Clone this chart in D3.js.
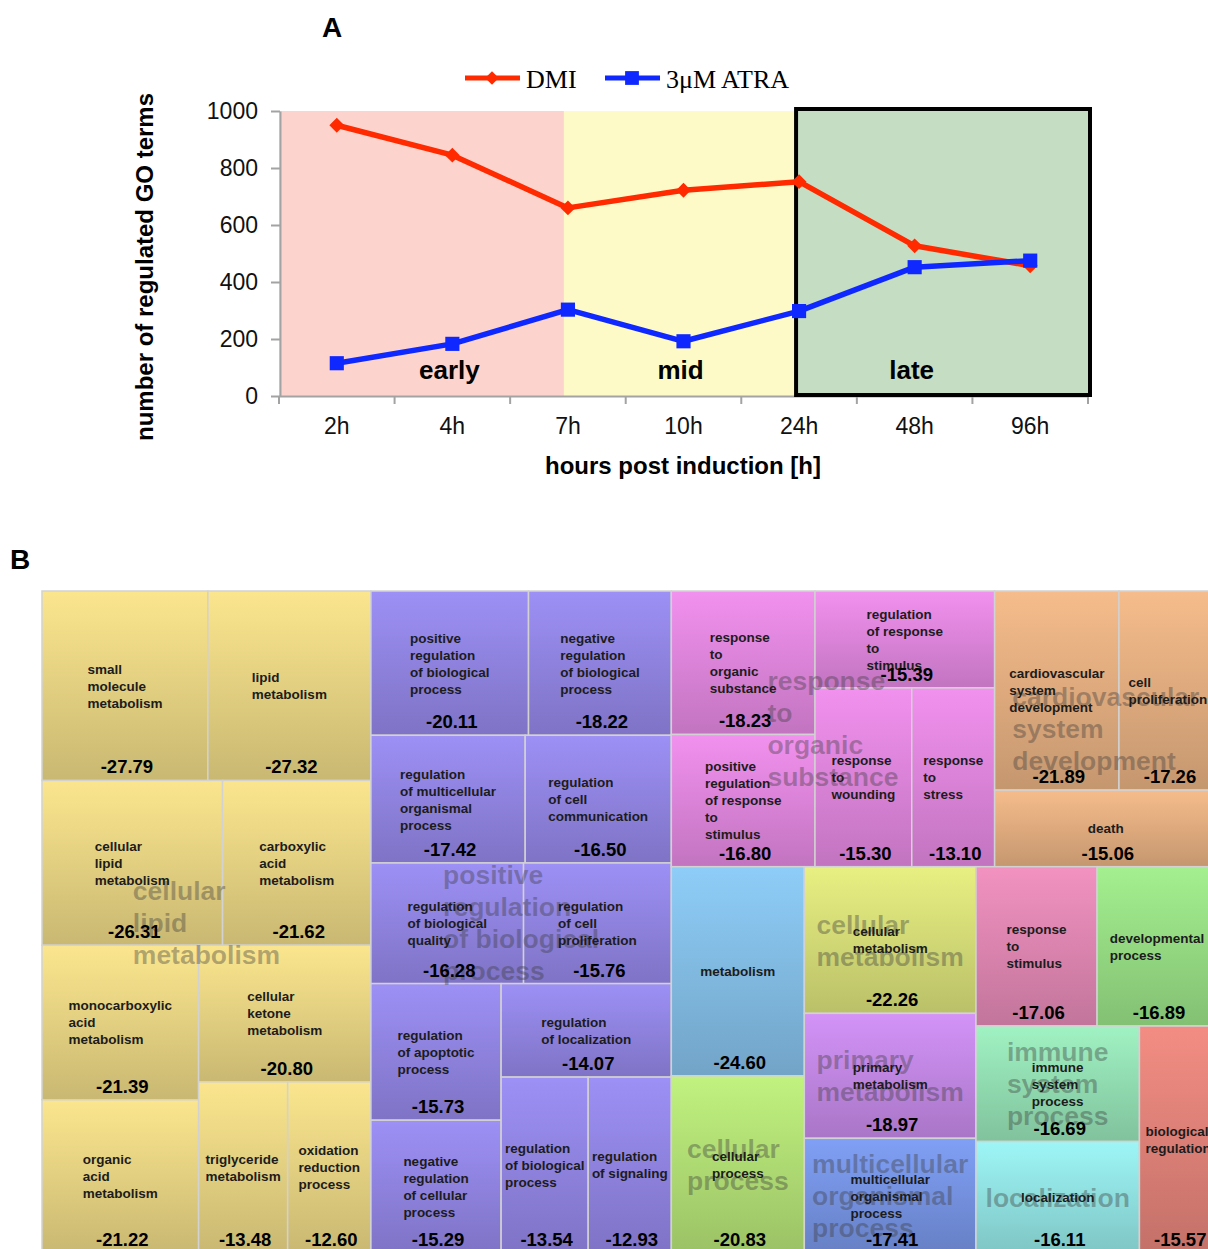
<!DOCTYPE html>
<html>
<head>
<meta charset="utf-8">
<script src="https://cdn.jsdelivr.net/npm/d3@7"></script>
<style>
  body { margin: 0; background: #fff; }
  svg { display: block; font-family: "Liberation Sans", Arial, sans-serif; }
</style>
</head>
<body>
<div id="chart"></div>
<script>
// ---- Panel A data ----
const hours = ['2h', '4h', '7h', '10h', '24h', '48h', '96h'];
const dmiCounts = [950, 845, 660, 722, 752, 527, 457];
const atraCounts = [115, 183, 303, 192, 298, 452, 475];
const seriesNames = ['DMI', '3\u03bcM ATRA'];
const yTicks = [0, 200, 400, 600, 800, 1000];
const phaseNames = ['early', 'mid', 'late'];
const phaseLabelAt = ['4h', '10h', '48h'];   // category under each phase label
const phaseEdges = ['7h', '24h'];            // where one phase turns into the next

// ---- Panel B data (REVIGO treemap, value = log10 p) ----
const goTerms = [
  'small molecule metabolism', 'lipid metabolism', 'cellular lipid metabolism',
  'carboxylic acid metabolism', 'monocarboxylic acid metabolism', 'organic acid metabolism',
  'cellular ketone metabolism', 'triglyceride metabolism', 'oxidation reduction process',
  'positive regulation of biological process', 'negative regulation of biological process',
  'regulation of multicellular organismal process', 'regulation of cell communication',
  'regulation of biological quality', 'regulation of cell proliferation',
  'regulation of apoptotic process', 'negative regulation of cellular process',
  'regulation of localization', 'regulation of biological process', 'regulation of signaling',
  'response to organic substance', 'positive regulation of response to stimulus',
  'regulation of response to stimulus', 'response to wounding', 'response to stress',
  'cardiovascular system development', 'cell proliferation', 'death',
  'metabolism', 'cellular process', 'cellular metabolism', 'primary metabolism',
  'multicellular organismal process', 'response to stimulus', 'developmental process',
  'immune system process', 'localization', 'biological regulation'
];
const goScores = [
  -27.79, -27.32, -26.31, -21.62, -21.39, -21.22, -20.80, -13.48, -12.60,
  -20.11, -18.22, -17.42, -16.50, -16.28, -15.76, -15.73, -15.29, -14.07, -13.54, -12.93,
  -18.23, -16.80, -15.39, -15.30, -13.10,
  -21.89, -17.26, -15.06,
  -24.60, -20.83, -22.26, -18.97, -17.41, -17.06, -16.89, -16.69, -16.11, -15.57
];
const goClusters = [
  ...Array(9).fill('cellular lipid metabolism'),
  ...Array(11).fill('positive regulation of biological process'),
  ...Array(5).fill('response to organic substance'),
  ...Array(3).fill('cardiovascular system development'),
  'metabolism', 'cellular process', 'cellular metabolism', 'primary metabolism',
  'multicellular organismal process', 'response to stimulus', 'developmental process',
  'immune system process', 'localization', 'biological regulation'
];
// nesting of the slice-and-dice layout (order of the tiles)
const tiling = [
  [
    ['small molecule metabolism', 'lipid metabolism'],
    ['cellular lipid metabolism', 'carboxylic acid metabolism'],
    [['monocarboxylic acid metabolism', 'organic acid metabolism'],
     ['cellular ketone metabolism', ['triglyceride metabolism', 'oxidation reduction process']]]
  ],
  [
    ['positive regulation of biological process', 'negative regulation of biological process'],
    ['regulation of multicellular organismal process', 'regulation of cell communication'],
    ['regulation of biological quality', 'regulation of cell proliferation'],
    [['regulation of apoptotic process', 'negative regulation of cellular process'],
     ['regulation of localization', ['regulation of biological process', 'regulation of signaling']]]
  ],
  [
    [['response to organic substance', 'positive regulation of response to stimulus'],
     ['regulation of response to stimulus', ['response to wounding', 'response to stress']],
     [['cardiovascular system development', 'cell proliferation'], 'death']],
    [['metabolism', 'cellular process'],
     ['cellular metabolism', 'primary metabolism', 'multicellular organismal process'],
     [['response to stimulus', 'developmental process'],
      [['immune system process', 'localization'], 'biological regulation']]]
  ]
];

// cluster colours
const clusterNames = [
  'cellular lipid metabolism', 'positive regulation of biological process',
  'response to organic substance', 'cardiovascular system development',
  'metabolism', 'cellular process', 'cellular metabolism', 'primary metabolism',
  'multicellular organismal process', 'response to stimulus', 'developmental process',
  'immune system process', 'localization', 'biological regulation'
];
const clusterColors = [
  '#fbe68e', '#9d90f6', '#f291ef', '#f6bc8b',
  '#8ecdf8', '#c1f27f', '#e8f082', '#d393f8',
  '#80a0f6', '#f292c1', '#a4f08f', '#a0f2c3', '#9ef6f6', '#f38d83'
];

const width = 1208, height = 1249;
const svg = d3.select('#chart').append('svg')
  .attr('width', width)
  .attr('height', height);

// ================= Panel A =================
const xA = d3.scaleBand().domain(hours).range([279, 1088]);
const yA = d3.scaleLinear().domain([0, 1000]).range([396, 111]);
const cx = h => xA(h) + xA.bandwidth() / 2;
const red = '#ff2a00', blue = '#0f28ff';

svg.append('text')
  .attr('x', 332).attr('y', 37)
  .attr('text-anchor', 'middle')
  .style('font-size', '28px').style('font-weight', 'bold')
  .text('A');

// phase backgrounds
const edgesX = [xA.range()[0], ...phaseEdges.map(h => cx(h) - 4), xA.range()[1]];
const phaseFill = ['#fdd4cd', '#fefac7', '#c5ddc2'];
svg.selectAll('.phase')
  .data(phaseNames)
  .enter().append('rect')
  .attr('class', 'phase')
  .attr('x', (d, i) => edgesX[i])
  .attr('y', yA(1000))
  .attr('width', (d, i) => edgesX[i + 1] - edgesX[i])
  .attr('height', yA(0) - yA(1000))
  .attr('fill', (d, i) => phaseFill[i]);

// axes
const yAxis = svg.append('g')
  .attr('transform', `translate(${xA.range()[0] + 1},0)`)
  .call(d3.axisLeft(yA).tickValues(yTicks).tickFormat(d3.format('d'))
    .tickSize(9).tickSizeOuter(0).tickPadding(13));
const xAxis = svg.append('g')
  .attr('transform', `translate(0,${yA(0)})`)
  .call(d3.axisBottom(xA).tickSize(0).tickPadding(22));
[yAxis, xAxis].forEach(ax => {
  ax.select('.domain').attr('stroke', '#a3a3a3').attr('stroke-width', 2);
  ax.selectAll('.tick line').attr('stroke', '#a3a3a3').attr('stroke-width', 2);
  ax.selectAll('.tick text')
    .attr('fill', '#111')
    .style('font-size', '23px')
    .style('font-family', '"Liberation Sans", Arial, sans-serif');
});
// tick marks between the categories
const bounds = [...hours.map(h => xA(h)), xA.range()[1]];
xAxis.selectAll('.sep')
  .data(bounds)
  .enter().append('line')
  .attr('class', 'sep')
  .attr('x1', d => d).attr('x2', d => d)
  .attr('y1', 0).attr('y2', 8)
  .attr('stroke', '#a3a3a3').attr('stroke-width', 2);

// late box outline
svg.append('rect')
  .attr('x', cx(phaseEdges[1]) - 3)
  .attr('y', yA(1000) - 2)
  .attr('width', xA.range()[1] + 2 - (cx(phaseEdges[1]) - 3))
  .attr('height', yA(0) - yA(1000) + 1)
  .attr('fill', 'none')
  .attr('stroke', '#000')
  .attr('stroke-width', 4);

// phase labels
svg.selectAll('.phase-label')
  .data(phaseNames)
  .enter().append('text')
  .attr('class', 'phase-label')
  .attr('x', (d, i) => cx(phaseLabelAt[i]) - 3)
  .attr('y', yA(0) - 17)
  .attr('text-anchor', 'middle')
  .style('font-size', '26px').style('font-weight', 'bold')
  .text(d => d);

// series lines
const line = d3.line()
  .x((d, i) => cx(hours[i]))
  .y(d => yA(d));
svg.append('path').datum(dmiCounts)
  .attr('d', line).attr('fill', 'none')
  .attr('stroke', red).attr('stroke-width', 5.5).attr('stroke-linejoin', 'round');
svg.append('path').datum(atraCounts)
  .attr('d', line).attr('fill', 'none')
  .attr('stroke', blue).attr('stroke-width', 5.5).attr('stroke-linejoin', 'round');

const diamond = d3.symbol(d3.symbolSquare, 110)();
const square = d3.symbol(d3.symbolSquare, 200)();
svg.selectAll('.dmi-pt')
  .data(dmiCounts)
  .enter().append('path')
  .attr('class', 'dmi-pt')
  .attr('d', diamond)
  .attr('transform', (d, i) => `translate(${cx(hours[i])},${yA(d)}) rotate(45)`)
  .attr('fill', red);
svg.selectAll('.atra-pt')
  .data(atraCounts)
  .enter().append('path')
  .attr('class', 'atra-pt')
  .attr('d', square)
  .attr('transform', (d, i) => `translate(${cx(hours[i])},${yA(d)})`)
  .attr('fill', blue);

// axis titles
svg.append('text')
  .attr('transform', 'translate(153,267) rotate(-90)')
  .attr('text-anchor', 'middle')
  .style('font-size', '24px').style('font-weight', 'bold')
  .text('number of regulated GO terms');
svg.append('text')
  .attr('x', 683).attr('y', 474)
  .attr('text-anchor', 'middle')
  .style('font-size', '24px').style('font-weight', 'bold')
  .text('hours post induction [h]');

// legend
const legend = svg.append('g').attr('transform', 'translate(465,78)');
const legendItems = legend.selectAll('g')
  .data(seriesNames)
  .enter().append('g')
  .attr('transform', (d, i) => `translate(${i * 140},0)`);
legendItems.append('line')
  .attr('x1', 0).attr('x2', 55)
  .attr('stroke', (d, i) => i ? blue : red)
  .attr('stroke-width', 5);
legendItems.append('path')
  .attr('d', (d, i) => i ? d3.symbol(d3.symbolSquare, 190)() : d3.symbol(d3.symbolSquare, 90)())
  .attr('transform', (d, i) => i ? 'translate(27,0)' : 'translate(27,0) rotate(45)')
  .attr('fill', (d, i) => i ? blue : red);
legendItems.append('text')
  .attr('x', 61).attr('y', 10)
  .style('font-family', '"Liberation Serif", "Times New Roman", serif')
  .style('font-size', '26px')
  .text(d => d);

// ================= Panel B =================
svg.append('text')
  .attr('x', 20).attr('y', 569)
  .attr('text-anchor', 'middle')
  .style('font-size', '28px').style('font-weight', 'bold')
  .text('B');

const scoreOf = {}, clusterOf = {};
goTerms.forEach((t, i) => { scoreOf[t] = goScores[i]; clusterOf[t] = goClusters[i]; });

const toNode = item => typeof item === 'string' ? { name: item } : { children: item.map(toNode) };
const root = d3.hierarchy({ children: tiling.map(toNode) })
  .sum(d => d.children ? 0 : Math.abs(scoreOf[d.name]));
d3.treemap().size([1175, 662]).tile(d3.treemapSliceDice)(root);

const color = d3.scaleOrdinal(clusterNames, clusterColors);
const defs = svg.append('defs');
clusterNames.forEach((c, i) => {
  const g = defs.append('linearGradient')
    .attr('id', 'grad' + i)
    .attr('x1', 0).attr('y1', 0).attr('x2', 0).attr('y2', 1);
  g.append('stop').attr('offset', '0%').attr('stop-color', color(c));
  g.append('stop').attr('offset', '100%').attr('stop-color', d3.color(color(c)).darker(0.62));
});

const tm = svg.append('g').attr('transform', 'translate(42,591)');
const leaves = root.leaves();

tm.selectAll('rect')
  .data(leaves)
  .enter().append('rect')
  .attr('x', d => d.x0).attr('y', d => d.y0)
  .attr('width', d => d.x1 - d.x0).attr('height', d => d.y1 - d.y0)
  .attr('fill', d => `url(#grad${clusterNames.indexOf(clusterOf[d.data.name])})`)
  .attr('stroke', '#d2d2d2').attr('stroke-width', 1.5);

// split a label into lines, keeping "of" with the following word
function splitLines(name) {
  const w = name.split(' '), out = [];
  for (let i = 0; i < w.length; i++) {
    if (w[i] === 'of' && i + 1 < w.length) { out.push('of ' + w[i + 1]); i++; }
    else out.push(w[i]);
  }
  return out;
}

// large faded cluster labels
const clusterBoxes = clusterNames.map(c => {
  const ls = leaves.filter(l => clusterOf[l.data.name] === c);
  return {
    name: c,
    x0: d3.min(ls, l => l.x0), x1: d3.max(ls, l => l.x1),
    y0: d3.min(ls, l => l.y0), y1: d3.max(ls, l => l.y1)
  };
});
const bigFs = 26.5, bigLh = 32;
clusterBoxes.forEach(b => {
  const lines = splitLines(b.name);
  const t = tm.append('text')
    .style('font-size', bigFs + 'px').style('font-weight', 'bold')
    .attr('fill', '#3a3a3a').attr('fill-opacity', 0.38);
  const cy = (b.y0 + b.y1) / 2;
  lines.forEach((s, i) => {
    t.append('tspan')
      .attr('y', cy - (lines.length - 1) * bigLh / 2 + i * bigLh + bigFs * 0.36)
      .text(s);
  });
  const maxW = d3.max(t.selectAll('tspan').nodes(), n => n.getComputedTextLength());
  if (maxW > (b.x1 - b.x0) * 0.92) { t.remove(); return; }
  t.selectAll('tspan').attr('x', (b.x0 + b.x1) / 2 - maxW / 2);
});

// term labels and values
const smFs = 13.5, smLh = 17;
leaves.forEach(d => {
  const lines = splitLines(d.data.name);
  const t = tm.append('text')
    .style('font-size', smFs + 'px').style('font-weight', 'bold')
    .attr('fill', '#1c1c1c');
  const cy = (d.y0 + d.y1) / 2;
  lines.forEach((s, i) => {
    t.append('tspan')
      .attr('y', cy - (lines.length - 1) * smLh / 2 + i * smLh + smFs * 0.36)
      .text(s);
  });
  const maxW = d3.max(t.selectAll('tspan').nodes(), n => n.getComputedTextLength());
  t.selectAll('tspan').attr('x', (d.x0 + d.x1) / 2 - maxW / 2);

  tm.append('text')
    .attr('x', (d.x0 + d.x1) / 2 + 2)
    .attr('y', d.y1 - 7)
    .attr('text-anchor', 'middle')
    .style('font-size', '18.5px').style('font-weight', 'bold')
    .attr('fill', '#000')
    .text(scoreOf[d.data.name].toFixed(2));
});
</script>
</body>
</html>
